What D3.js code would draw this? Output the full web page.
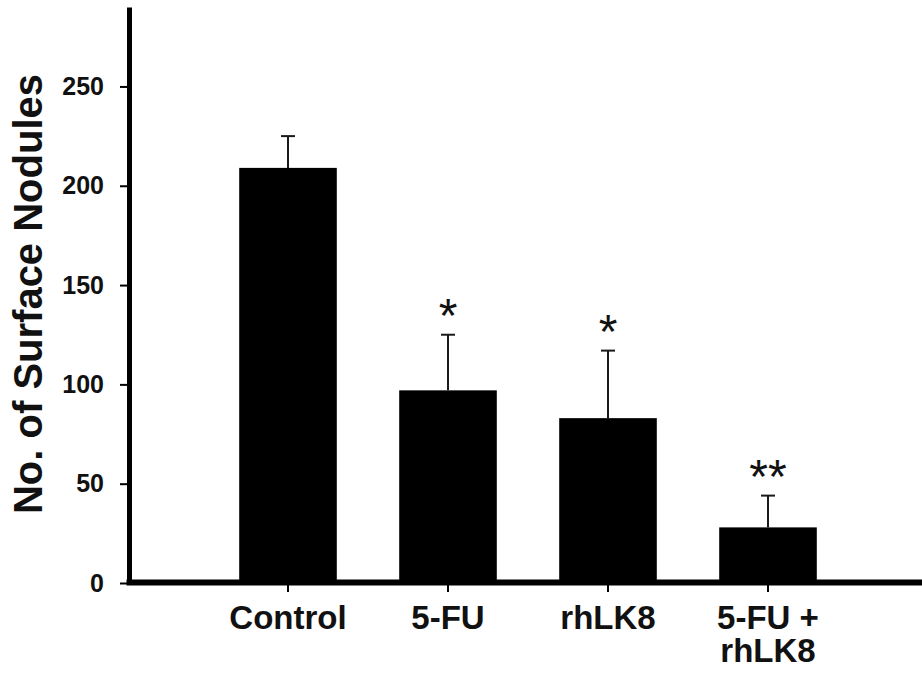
<!DOCTYPE html>
<html>
<head>
<meta charset="utf-8">
<script src="https://cdn.jsdelivr.net/npm/d3@7"></script>
<style>
  body { margin: 0; background: #fff; }
  svg text { font-family: Arial, "Liberation Sans", sans-serif; fill: #111; }
</style>
</head>
<body>
<svg id="chart" width="922" height="680"></svg>
<script>
// values
const categories = ["Control", "5-FU", "rhLK8", "5-FU + rhLK8"];
const categoryLines = [["Control"], ["5-FU"], ["rhLK8"], ["5-FU +", "rhLK8"]];
const means = [209, 97, 83, 28];
const errors = [16, 28, 34, 16];
const marks = ["", "*", "*", "**"];
const yTicks = [0, 50, 100, 150, 200, 250];

const data = categories.map((c, i) => ({ cat: c, lines: categoryLines[i], mean: means[i], err: errors[i], mark: marks[i] }));

const W = 922, H = 680;
const axisX = 129, baseY = 583;

const svg = d3.select("#chart");

const y = d3.scaleLinear().domain([0, 290]).range([baseY, 7]);
const x = d3.scaleBand().domain(categories)
  .range([208, 848]).paddingInner(0.39).paddingOuter(0.195);

// bars
svg.append("g").selectAll("rect").data(data).enter().append("rect")
  .attr("x", d => x(d.cat))
  .attr("width", x.bandwidth())
  .attr("y", d => y(d.mean))
  .attr("height", d => y(0) - y(d.mean))
  .attr("fill", "#000");

// error bars (upper only)
const eb = svg.append("g").attr("stroke", "#1a1a1a").attr("stroke-width", 2);
eb.selectAll("line.v").data(data).enter().append("line")
  .attr("x1", d => x(d.cat) + x.bandwidth() / 2)
  .attr("x2", d => x(d.cat) + x.bandwidth() / 2)
  .attr("y1", d => y(d.mean))
  .attr("y2", d => y(d.mean + d.err));
eb.selectAll("line.cap").data(data).enter().append("line")
  .attr("x1", d => x(d.cat) + x.bandwidth() / 2 - 7)
  .attr("x2", d => x(d.cat) + x.bandwidth() / 2 + 7)
  .attr("y1", d => y(d.mean + d.err))
  .attr("y2", d => y(d.mean + d.err));

// significance marks
svg.append("g").selectAll("text").data(data.filter(d => d.mark)).enter().append("text")
  .attr("x", d => x(d.cat) + x.bandwidth() / 2)
  .attr("y", d => y(d.mean + d.err) - 3)
  .attr("text-anchor", "middle")
  .style("font-size", "48px")
  .text(d => d.mark);

// y axis
const yAxis = svg.append("g").attr("transform", `translate(${axisX},0)`)
  .call(d3.axisLeft(y).tickValues(yTicks).tickSize(9).tickSizeOuter(0).tickPadding(16));
yAxis.select(".domain").attr("stroke", "#000").attr("stroke-width", 5);
yAxis.selectAll(".tick line").attr("stroke", "#000").attr("stroke-width", 2);
yAxis.selectAll(".tick text").style("font-size", "25px").style("font-weight", "bold").attr("fill", "#111");

// x axis
const xAxis = svg.append("g").attr("transform", `translate(0,${baseY})`)
  .call(d3.axisBottom(x).tickSize(9).tickFormat(""));
xAxis.select(".domain").remove();
xAxis.selectAll(".tick line").attr("stroke", "#000").attr("stroke-width", 2);
svg.append("line")
  .attr("x1", axisX - 2.5).attr("x2", W)
  .attr("y1", baseY - 0.5).attr("y2", baseY - 0.5)
  .attr("stroke", "#000").attr("stroke-width", 6);

xAxis.selectAll(".tick").each(function(c, i) {
  const g = d3.select(this);
  data[i].lines.forEach((ln, j) => {
    g.append("text")
      .attr("text-anchor", "middle")
      .attr("x", 0).attr("y", 46 + j * 33)
      .style("font-size", "33px").style("font-weight", "bold")
      .attr("fill", "#111")
      .text(ln);
  });
});

// y title
svg.append("text")
  .attr("transform", `translate(42,${294}) rotate(-90)`)
  .attr("text-anchor", "middle")
  .style("font-size", "40px").style("font-weight", "bold")
  .text("No. of Surface Nodules");
</script>
</body>
</html>
